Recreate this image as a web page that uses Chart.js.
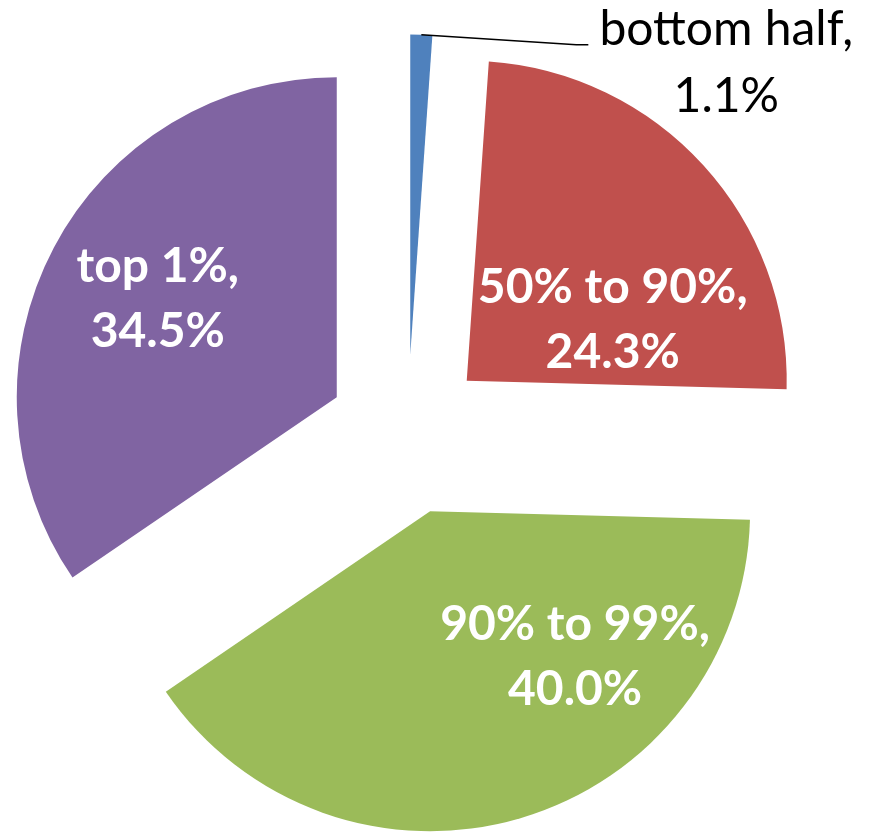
<!DOCTYPE html>
<html lang="en">
<head>
    <meta charset="UTF-8">
    <title>Income share pie</title>
    <style>
        html, body {
            margin: 0;
            padding: 0;
            background: #ffffff;
        }
        #wrap {
            width: 871px;
            height: 832px;
        }
    </style>
</head>
<body>
    <div id="wrap">
        <canvas id="myChart"></canvas>
    </div>

    <script src="https://cdn.jsdelivr.net/npm/chart.js"></script>
    <script>
        // data
        const groups = ['bottom half', '50% to 90%', '90% to 99%', 'top 1%'];
        const shares = [1.1, 24.3, 40.0, 34.5];
        const colors = ['#4F81BD', '#C0504D', '#9BBB59', '#8064A2'];

        // how far each slice is pulled out from the centre
        const explode = 80;
        // label nudges, relative to each slice tip (first baseline)
        const labelNudge = [null, [146, -78], [145, 129], [-179, -115]];
        const lineGap = 65;

        const explodePlugin = {
            id: 'explode',
            afterDatasetUpdate(chart, args) {
                args.meta.data.forEach(arc => {
                    const mid = (arc.startAngle + arc.endAngle) / 2;
                    arc.x += explode * Math.cos(mid);
                    arc.y += explode * Math.sin(mid);
                });
            }
        };

        const labelPlugin = {
            id: 'sliceLabels',
            afterDatasetsDraw(chart) {
                const ctx = chart.ctx;
                const arcs = chart.getDatasetMeta(0).data;
                ctx.save();
                arcs.forEach((arc, i) => {
                    const line1 = groups[i] + ',';
                    const line2 = shares[i].toFixed(1) + '%';
                    if (i === 0) {
                        // small slice: label outside with a leader line
                        const mid = (arc.startAngle + arc.endAngle) / 2;
                        const tx = arc.x + arc.outerRadius * Math.cos(mid);
                        const ty = arc.y + arc.outerRadius * Math.sin(mid);
                        ctx.strokeStyle = '#000000';
                        ctx.lineWidth = 1.5;
                        ctx.beginPath();
                        ctx.moveTo(tx, ty);
                        ctx.lineTo(tx + 155, ty + 10);
                        ctx.lineTo(tx + 167, ty + 10);
                        ctx.stroke();
                        ctx.fillStyle = '#000000';
                        ctx.font = '48px Lato';
                        ctx.textAlign = 'center';
                        ctx.textBaseline = 'alphabetic';
                        const cx = tx + 305;
                        ctx.fillText(line1, cx, ty + 10);
                        ctx.fillText(line2, cx, ty + 10 + 67);
                        return;
                    }
                    const [dx, dy] = labelNudge[i];
                    ctx.fillStyle = '#ffffff';
                    ctx.font = 'bold 48px Lato';
                    ctx.textAlign = 'center';
                    ctx.textBaseline = 'alphabetic';
                    ctx.fillText(line1, arc.x + dx, arc.y + dy);
                    ctx.fillText(line2, arc.x + dx, arc.y + dy + lineGap);
                });
                ctx.restore();
            }
        };

        const ctx = document.getElementById('myChart').getContext('2d');
        new Chart(ctx, {
            type: 'pie',
            data: {
                labels: groups,
                datasets: [{
                    data: shares,
                    backgroundColor: colors,
                    borderWidth: 0,
                    radius: 320
                }]
            },
            options: {
                responsive: true,
                maintainAspectRatio: false,
                animation: false,
                layout: {
                    padding: { left: 0, right: 56, top: 37, bottom: 0 }
                },
                plugins: {
                    legend: { display: false },
                    tooltip: { enabled: false }
                }
            },
            plugins: [explodePlugin, labelPlugin]
        });
    </script>
</body>
</html>
